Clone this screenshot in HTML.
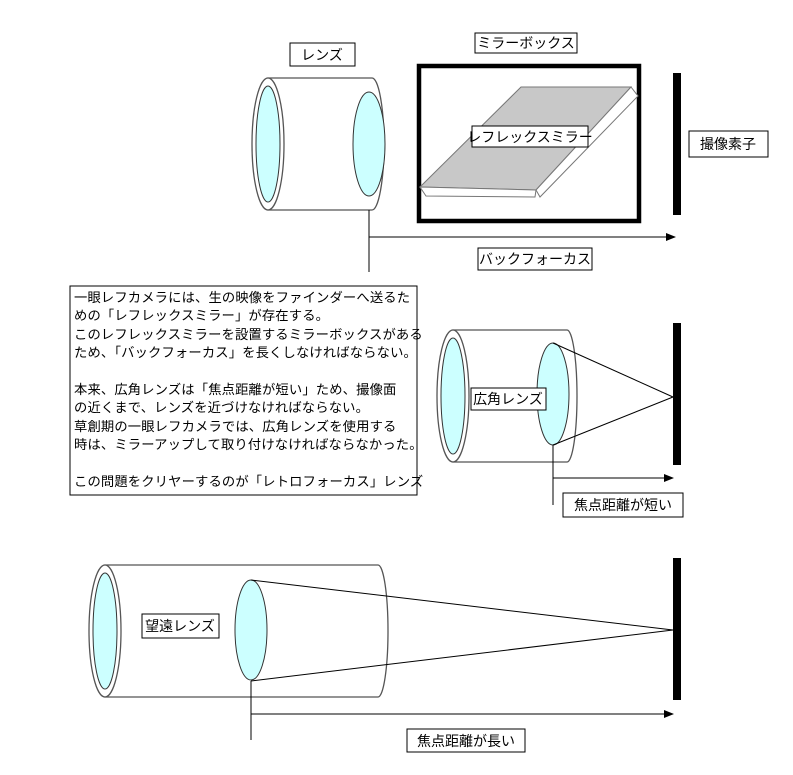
<!DOCTYPE html>
<html><head><meta charset="utf-8"><style>
body{margin:0;background:#fff;}
svg{display:block;}
text{font-family:"Liberation Sans","Noto Sans CJK JP",sans-serif;font-size:14px;fill:#000;}
text.p{font-size:13.3px;letter-spacing:0.15px;}
</style></head><body>
<svg width="793" height="775" viewBox="0 0 793 775" xmlns="http://www.w3.org/2000/svg">
<defs><marker id="ah" markerWidth="10" markerHeight="8" refX="9" refY="4" orient="auto" markerUnits="userSpaceOnUse"><path d="M0,0 L10,4 L0,8 z" fill="#000"/></marker></defs>

<!-- TOP lens -->
<path d="M268,78 L372,78 A12,66 0 0 1 372,210 L268,210 Z" fill="#fff" stroke="#555" stroke-width="1.3"/>
<ellipse cx="268" cy="144" rx="16" ry="66" fill="#fff" stroke="#555" stroke-width="1.3"/>
<ellipse cx="268" cy="144" rx="12" ry="58" fill="#ccffff" stroke="#333"/>
<ellipse cx="369" cy="144" rx="16" ry="52" fill="#ccffff" stroke="#333"/>
<line x1="369" y1="210" x2="369" y2="272" stroke="#000"/>
<line x1="369" y1="237" x2="675" y2="237" stroke="#000" marker-end="url(#ah)"/>
<rect x="290" y="43" width="65" height="23" fill="#fff" stroke="#000"/>
<text x="322" y="60" text-anchor="middle">レンズ</text>
<rect x="475" y="33" width="102" height="20" fill="#fff" stroke="#000"/>
<text x="526" y="48" text-anchor="middle">ミラーボックス</text>
<rect x="419" y="66" width="220" height="155" fill="#fff" stroke="#000" stroke-width="4.5"/>
<polygon points="420,187 521,87 631,87 536,190" fill="#c8c8c8" stroke="#777"/>
<polygon points="420,187 536,190 535,197 426,196" fill="#fff" stroke="#777"/>
<polygon points="631,87 638,96 540,197 536,190" fill="#fff" stroke="#777"/>
<rect x="472" y="126" width="116" height="21" fill="#fff" stroke="#000"/>
<text x="530" y="142" text-anchor="middle">レフレックスミラー</text>
<rect x="673" y="73" width="8" height="142" fill="#000"/>
<rect x="689" y="131" width="79" height="26" fill="#fff" stroke="#000"/>
<text x="728" y="149" text-anchor="middle">撮像素子</text>
<rect x="478" y="248" width="114" height="22" fill="#fff" stroke="#000"/>
<text x="535" y="264" text-anchor="middle">バックフォーカス</text>

<!-- text box -->
<rect x="70" y="286" width="347" height="209" fill="#fff" stroke="#000"/>
<text class="p" x="74" y="302">一眼レフカメラには、生の映像をファインダーへ送るた</text>
<text class="p" x="74" y="320">めの「レフレックスミラー」が存在する。</text>
<text class="p" x="74" y="339">このレフレックスミラーを設置するミラーボックスがある</text>
<text class="p" x="74" y="357">ため、「バックフォーカス」を長くしなければならない。</text>
<text class="p" x="74" y="394">本来、広角レンズは「焦点距離が短い」ため、撮像面</text>
<text class="p" x="74" y="412">の近くまで、レンズを近づけなければならない。</text>
<text class="p" x="74" y="431">草創期の一眼レフカメラでは、広角レンズを使用する</text>
<text class="p" x="74" y="449">時は、ミラーアップして取り付けなければならなかった。</text>
<text class="p" x="74" y="486">この問題をクリヤーするのが「レトロフォーカス」レンズ</text>

<!-- MIDDLE wide lens -->
<path d="M453,330 L567,330 A10,66 0 0 1 567,462 L453,462 Z" fill="#fff" stroke="#555" stroke-width="1.3"/>
<ellipse cx="453" cy="396" rx="16" ry="66" fill="#fff" stroke="#555" stroke-width="1.3"/>
<ellipse cx="453" cy="396" rx="12" ry="58" fill="#ccffff" stroke="#333"/>
<ellipse cx="553" cy="394" rx="16" ry="51" fill="#ccffff" stroke="#333"/>
<line x1="553" y1="343" x2="673" y2="397" stroke="#000"/>
<line x1="553" y1="445" x2="673" y2="397" stroke="#000"/>
<rect x="673" y="323" width="8" height="142" fill="#000"/>
<line x1="553" y1="445" x2="553" y2="505" stroke="#000"/>
<line x1="553" y1="478" x2="673" y2="478" stroke="#000" marker-end="url(#ah)"/>
<rect x="471" y="388" width="75" height="22" fill="#fff" stroke="#000"/>
<text x="508" y="404" text-anchor="middle">広角レンズ</text>
<rect x="563" y="493" width="120" height="24" fill="#fff" stroke="#000"/>
<text x="623" y="510" text-anchor="middle">焦点距離が短い</text>

<!-- BOTTOM tele lens -->
<path d="M105,565 L378,565 A10,66 0 0 1 378,697 L105,697 Z" fill="#fff" stroke="#555" stroke-width="1.3"/>
<ellipse cx="105" cy="631" rx="16" ry="66" fill="#fff" stroke="#555" stroke-width="1.3"/>
<ellipse cx="105" cy="631" rx="12" ry="58" fill="#ccffff" stroke="#333"/>
<ellipse cx="251" cy="630" rx="16" ry="50" fill="#ccffff" stroke="#333"/>
<line x1="251" y1="580" x2="673" y2="630" stroke="#000"/>
<line x1="251" y1="681" x2="673" y2="630" stroke="#000"/>
<rect x="673" y="558" width="8" height="142" fill="#000"/>
<line x1="251" y1="681" x2="251" y2="740" stroke="#000"/>
<line x1="251" y1="714" x2="673" y2="714" stroke="#000" marker-end="url(#ah)"/>
<rect x="142" y="614" width="77" height="24" fill="#fff" stroke="#000"/>
<text x="180" y="631" text-anchor="middle">望遠レンズ</text>
<rect x="407" y="729" width="118" height="23" fill="#fff" stroke="#000"/>
<text x="466" y="746" text-anchor="middle">焦点距離が長い</text>
</svg>
</body></html>
